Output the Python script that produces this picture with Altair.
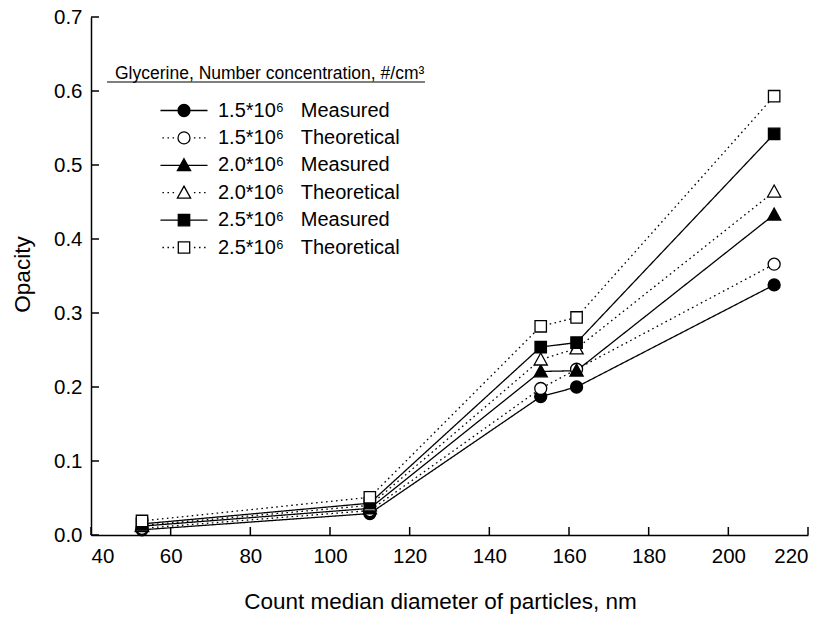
import altair as alt
import pandas as pd

# ---- data ----
x_nm = [52.8, 110.0, 152.9, 161.9, 211.5]

m15 = [0.007, 0.029, 0.187, 0.200, 0.338]
t15 = [0.009, 0.033, 0.198, 0.224, 0.366]
m20 = [0.012, 0.036, 0.221, 0.222, 0.433]
t20 = [0.013, 0.040, 0.237, 0.252, 0.464]
m25 = [0.015, 0.043, 0.254, 0.260, 0.542]
t25 = [0.019, 0.051, 0.282, 0.294, 0.593]

concs = ["1.5*10\u2076", "1.5*10\u2076", "2.0*10\u2076", "2.0*10\u2076", "2.5*10\u2076", "2.5*10\u2076"]
kinds = ["Measured", "Theoretical", "Measured", "Theoretical", "Measured", "Theoretical"]
series_values = [m15, t15, m20, t20, m25, t25]

x_ticks = [40, 60, 80, 100, 120, 140, 160, 180, 200, 220]
y_ticks = [0.0, 0.1, 0.2, 0.3, 0.4, 0.5, 0.6, 0.7]

NB = "\u00a0"
labels = [f"{c}{NB*3}{k}" for c, k in zip(concs, kinds)]

rows = []
for lab, kind, vals in zip(labels, kinds, series_values):
    for xv, yv in zip(x_nm, vals):
        rows.append({"x": xv, "y": yv, "label": lab, "kind": kind})
df = pd.DataFrame(rows)

# ---- styles ----
FONT = "Liberation Sans"
W, H = 717, 518
TICK = 8
circle = "M 1 0 A 1 1 0 1 1 -1 0 A 1 1 0 1 1 1 0 Z"
tri = "M 0 -1.1 L 1.1 0.9 L -1.1 0.9 Z"
square = "M -0.95 -0.95 L 0.95 -0.95 L 0.95 0.95 L -0.95 0.95 Z"
point_shapes = [circle, circle, tri, tri, square, square]
fills = ["black", "white", "black", "white", "black", "white"]
strokes = ["black"] * 6

solid_line = "M -3.92 0 L 3.92 0 "
dots = ("M -3.6 0 L -3.35 0 M -2.75 0 L -2.5 0 M -1.9 0 L -1.65 0 "
        "M 1.65 0 L 1.9 0 M 2.5 0 L 2.75 0 M 3.35 0 L 3.6 0 ")
legend_shapes = [solid_line + circle, dots + circle, solid_line + tri,
                 dots + tri, solid_line + square, dots + square]

x_scale = alt.Scale(domain=[40, 220], nice=False, zero=False)
y_scale = alt.Scale(domain=[0, 0.7], nice=False)

x_axis = alt.Axis(values=x_ticks, title="Count median diameter of particles, nm",
                  titleFontSize=22.5, labelFontSize=20.5, ticks=False, labelPadding=11,
                  titleX=349, titleY=73, titleBaseline="alphabetic")
y_axis = alt.Axis(values=y_ticks, format=".1f", title="Opacity",
                  titleFontSize=22.5, labelFontSize=20.5, ticks=False, labelPadding=9,
                  titleAngle=270, titleX=-68.5, titleY=257, titleAlign="center",
                  titleBaseline="middle")

base = alt.Chart(df)

lines = base.mark_line(color="black", strokeWidth=1.3).encode(
    x=alt.X("x:Q", scale=x_scale, axis=x_axis),
    y=alt.Y("y:Q", scale=y_scale, axis=y_axis),
    detail="label:N",
    strokeDash=alt.StrokeDash("kind:N", scale=alt.Scale(domain=["Measured", "Theoretical"],
                                                         range=[[1, 0], [1.6, 3.4]]), legend=None),
    order="x:Q",
)

points = base.mark_point(filled=True, stroke="black", strokeWidth=1.3, size=144, opacity=1).encode(
    x=alt.X("x:Q", scale=x_scale),
    y=alt.Y("y:Q", scale=y_scale),
    shape=alt.Shape("label:N", scale=alt.Scale(domain=labels, range=point_shapes), legend=None),
    fill=alt.Fill("label:N", scale=alt.Scale(domain=labels, range=fills), legend=None),
)

leg = alt.Legend(title="Glycerine, Number concentration, #/cm\u00b3",
                 orient="none", legendX=24, legendY=48,
                 symbolStrokeColor="black", symbolStrokeWidth=1.3)
legend_layer = base.mark_point(filled=True, strokeWidth=1.3, size=144, opacity=0).encode(
    x=alt.X("x:Q", scale=x_scale),
    y=alt.Y("y:Q", scale=y_scale),
    shape=alt.Shape("label:N", scale=alt.Scale(domain=labels, range=legend_shapes), legend=leg),
    fill=alt.Fill("label:N", scale=alt.Scale(domain=labels, range=fills), legend=leg),
    stroke=alt.Stroke("label:N", scale=alt.Scale(domain=labels, range=strokes), legend=leg),
)

# inward tick marks placed through the axis scales
y_tick_marks = alt.Chart(pd.DataFrame({"v": y_ticks})).mark_rule(color="black", strokeWidth=1.5).encode(
    y=alt.Y("v:Q", scale=y_scale), x=alt.value(0), x2=alt.value(TICK)
)
x_tick_marks = alt.Chart(pd.DataFrame({"v": x_ticks})).mark_rule(color="black", strokeWidth=1.5).encode(
    x=alt.X("v:Q", scale=x_scale), y=alt.value(H), y2=alt.value(H - TICK)
)

underline = alt.Chart(alt.Data(values=[{}])).mark_rule(color="black", strokeWidth=1).encode(
    x=alt.value(16), x2=alt.value(334), y=alt.value(65)
)

chart = alt.layer(lines, points, legend_layer, y_tick_marks, x_tick_marks, underline).resolve_scale(
    shape="independent", fill="independent", stroke="independent"
).properties(
    width=W, height=H,
    autosize=alt.AutoSizeParams(type="none"),
    padding={"left": 91, "top": 17, "right": 22, "bottom": 84},
).configure_view(strokeWidth=0).configure_axis(
    grid=False, domainColor="black", domainWidth=1.5,
    labelColor="black", titleColor="black", labelFont=FONT, titleFont=FONT,
    titleFontWeight="normal",
).configure_legend(
    labelFont=FONT, titleFont=FONT, labelFontSize=20, titleFontSize=17.5,
    titleFontWeight="normal", labelColor="black", titleColor="black",
    labelLimit=500, titleLimit=600, symbolSize=144, symbolStrokeWidth=1.3,
    symbolStrokeColor="black", symbolOpacity=1, symbolOffset=59, labelOffset=24,
    rowPadding=7.4, titlePadding=18, padding=0,
)

chart.save("out.html", embed_options={"renderer": "svg", "actions": False})
